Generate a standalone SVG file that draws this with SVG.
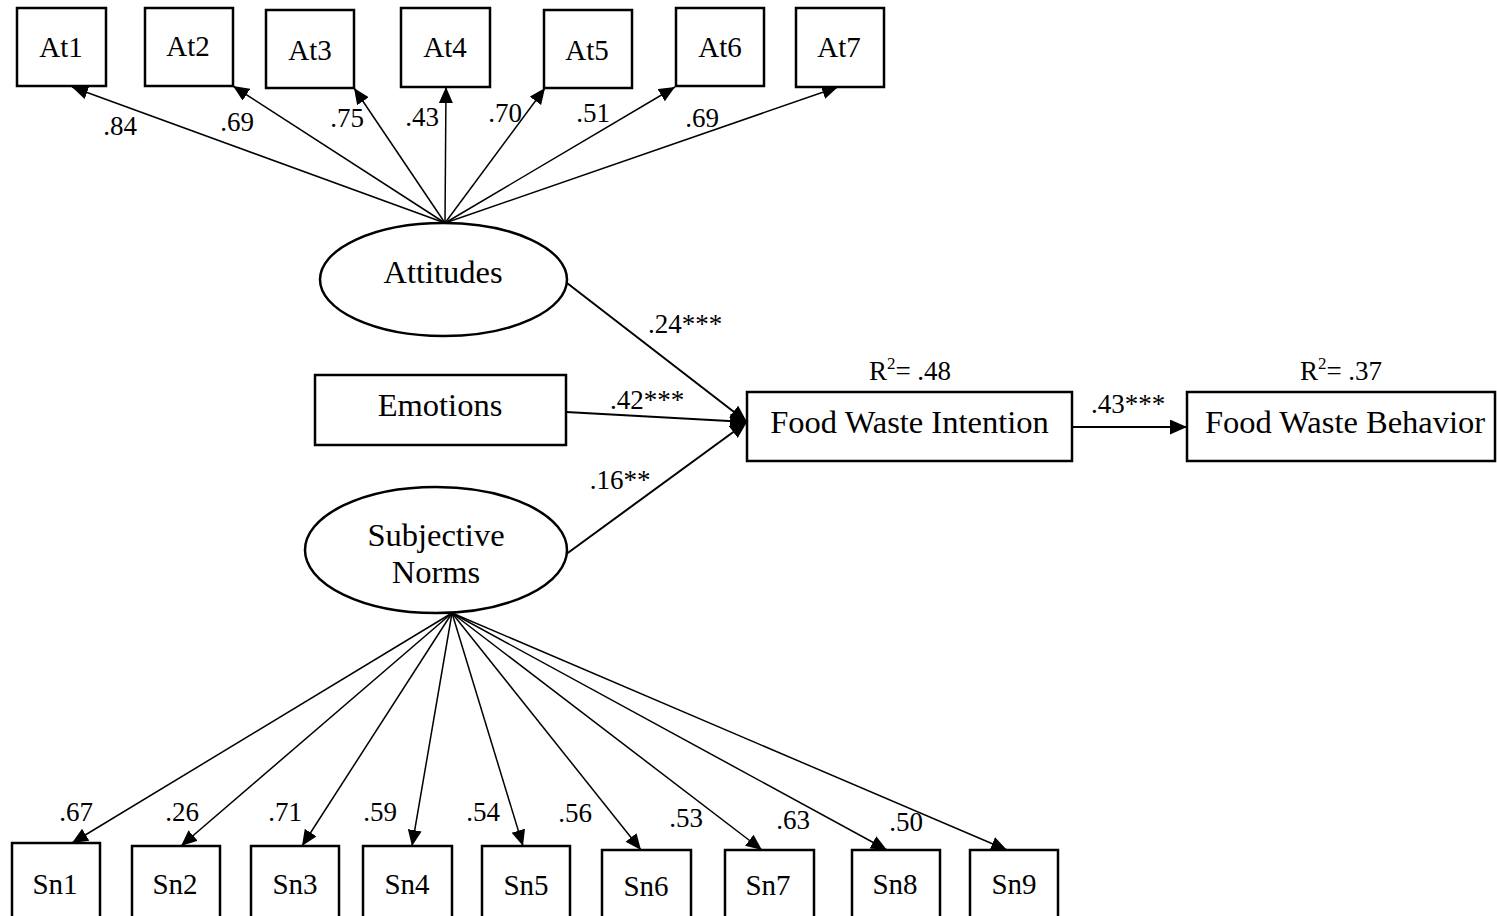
<svg xmlns="http://www.w3.org/2000/svg" width="1497" height="916" viewBox="0 0 1497 916">
  <style>
    .box { fill: #fff; stroke: #000; stroke-width: 2.5; }
    .lat { fill: #fff; stroke: #000; stroke-width: 2.5; }
    .lbl { font-family: "Liberation Serif", "Times New Roman", serif; fill: #000; text-anchor: middle; }
    .ind { font-size: 29px; }
    .big { font-size: 32.5px; }
    .num { font-size: 27px; }
    .edge { stroke: #000; stroke-width: 1.5; fill: none; marker-end: url(#arr); }
    .path { stroke: #000; stroke-width: 2; fill: none; marker-end: url(#arrL); }
  </style>
  <defs>
    <marker id="arr" markerUnits="userSpaceOnUse" markerWidth="17" markerHeight="15" refX="16" refY="7" orient="auto">
      <path d="M0,0 L16,7 L0,14 z" fill="#000"/>
    </marker>
    <marker id="arrL" markerUnits="userSpaceOnUse" markerWidth="18" markerHeight="16" refX="17" refY="7.5" orient="auto">
      <path d="M0,0 L17,7.5 L0,15 z" fill="#000"/>
    </marker>
  </defs>
  <rect width="1497" height="916" fill="#fff"/>

  <!-- connectors -->
  <g id="connectors">
    <!-- Attitudes indicators -->
    <line class="edge" x1="445" y1="223" x2="72" y2="87"/>
    <line class="edge" x1="445" y1="223" x2="233" y2="86"/>
    <line class="edge" x1="445" y1="223" x2="354" y2="88"/>
    <line class="edge" x1="445" y1="223" x2="446" y2="87"/>
    <line class="edge" x1="445" y1="223" x2="545" y2="88"/>
    <line class="edge" x1="445" y1="223" x2="675" y2="87"/>
    <line class="edge" x1="445" y1="223" x2="838" y2="87"/>
    <!-- Subjective Norms indicators -->
    <line class="edge" x1="452" y1="613" x2="72" y2="843"/>
    <line class="edge" x1="452" y1="613" x2="181" y2="846"/>
    <line class="edge" x1="452" y1="613" x2="302" y2="846"/>
    <line class="edge" x1="452" y1="613" x2="412" y2="846"/>
    <line class="edge" x1="452" y1="613" x2="523" y2="846"/>
    <line class="edge" x1="452" y1="613" x2="641" y2="850"/>
    <line class="edge" x1="452" y1="613" x2="762" y2="850"/>
    <line class="edge" x1="452" y1="613" x2="887" y2="850"/>
    <line class="edge" x1="452" y1="613" x2="1007" y2="850"/>
    <!-- structural paths -->
    <line class="path" x1="567" y1="283" x2="747" y2="422"/>
    <line class="path" x1="566" y1="412" x2="747" y2="422"/>
    <line class="path" x1="565" y1="555" x2="747" y2="422"/>
    <line class="path" x1="1072" y1="427" x2="1187" y2="427"/>

    <!-- loadings -->
    <text class="lbl num" x="120" y="135">.84</text>
    <text class="lbl num" x="237" y="131">.69</text>
    <text class="lbl num" x="347" y="127">.75</text>
    <text class="lbl num" x="422" y="126">.43</text>
    <text class="lbl num" x="505" y="122">.70</text>
    <text class="lbl num" x="593" y="122">.51</text>
    <text class="lbl num" x="702" y="127">.69</text>

    <text class="lbl num" x="76" y="821">.67</text>
    <text class="lbl num" x="182" y="821">.26</text>
    <text class="lbl num" x="285" y="821">.71</text>
    <text class="lbl num" x="380" y="821">.59</text>
    <text class="lbl num" x="483" y="821">.54</text>
    <text class="lbl num" x="575" y="822">.56</text>
    <text class="lbl num" x="686" y="827">.53</text>
    <text class="lbl num" x="793" y="829">.63</text>
    <text class="lbl num" x="906" y="831">.50</text>

    <text class="lbl num" x="685" y="333">.24***</text>
    <text class="lbl num" x="647" y="409">.42***</text>
    <text class="lbl num" x="620" y="489">.16**</text>
    <text class="lbl num" x="1128" y="413">.43***</text>
  </g>

  <!-- Attitudes indicators -->
  <g id="at1"><rect class="box" x="17" y="8" width="89" height="78"/><text class="lbl ind" x="61" y="57">At1</text></g>
  <g id="at2"><rect class="box" x="145" y="8" width="88" height="78"/><text class="lbl ind" x="188" y="56">At2</text></g>
  <g id="at3"><rect class="box" x="266" y="10" width="88" height="78"/><text class="lbl ind" x="310" y="60">At3</text></g>
  <g id="at4"><rect class="box" x="401" y="8" width="89" height="79"/><text class="lbl ind" x="445" y="57">At4</text></g>
  <g id="at5"><rect class="box" x="544" y="10" width="88" height="78"/><text class="lbl ind" x="587" y="60">At5</text></g>
  <g id="at6"><rect class="box" x="676" y="8" width="88" height="78"/><text class="lbl ind" x="720" y="57">At6</text></g>
  <g id="at7"><rect class="box" x="796" y="8" width="88" height="79"/><text class="lbl ind" x="839" y="57">At7</text></g>

  <!-- constructs -->
  <g id="attitudes">
    <ellipse class="lat" cx="443.5" cy="279.5" rx="123.5" ry="56.5"/>
    <text class="lbl big" x="443" y="283">Attitudes</text>
  </g>
  <g id="emotions">
    <rect class="box" x="315" y="375" width="251" height="70"/>
    <text class="lbl big" x="440" y="416">Emotions</text>
  </g>
  <g id="subjective-norms">
    <ellipse class="lat" cx="436" cy="550" rx="131" ry="63"/>
    <text class="lbl big" x="436" y="546">Subjective</text>
    <text class="lbl big" x="436" y="583">Norms</text>
  </g>
  <g id="intention">
    <rect class="box" x="747" y="392" width="325" height="69"/>
    <text class="lbl big" x="909.5" y="433">Food Waste Intention</text>
    <text class="lbl num" x="910" y="380">R<tspan font-size="17" dy="-11">2</tspan><tspan dy="11">= .48</tspan></text>
  </g>
  <g id="behavior">
    <rect class="box" x="1187" y="392" width="308" height="69"/>
    <text class="lbl big" x="1345" y="433">Food Waste Behavior</text>
    <text class="lbl num" x="1341" y="380">R<tspan font-size="17" dy="-11">2</tspan><tspan dy="11">= .37</tspan></text>
  </g>

  <!-- Subjective Norms indicators -->
  <g id="sn1"><rect class="box" x="12" y="843" width="88" height="80"/><text class="lbl ind" x="55" y="894">Sn1</text></g>
  <g id="sn2"><rect class="box" x="132" y="846" width="88" height="80"/><text class="lbl ind" x="175" y="894">Sn2</text></g>
  <g id="sn3"><rect class="box" x="251" y="846" width="88" height="80"/><text class="lbl ind" x="295" y="894">Sn3</text></g>
  <g id="sn4"><rect class="box" x="363" y="846" width="89" height="80"/><text class="lbl ind" x="407" y="894">Sn4</text></g>
  <g id="sn5"><rect class="box" x="482" y="846" width="88" height="80"/><text class="lbl ind" x="526" y="895">Sn5</text></g>
  <g id="sn6"><rect class="box" x="602" y="850" width="89" height="80"/><text class="lbl ind" x="646" y="896">Sn6</text></g>
  <g id="sn7"><rect class="box" x="725" y="850" width="89" height="80"/><text class="lbl ind" x="768" y="895">Sn7</text></g>
  <g id="sn8"><rect class="box" x="852" y="850" width="88" height="80"/><text class="lbl ind" x="895" y="894">Sn8</text></g>
  <g id="sn9"><rect class="box" x="970" y="850" width="88" height="80"/><text class="lbl ind" x="1014" y="894">Sn9</text></g>
</svg>
